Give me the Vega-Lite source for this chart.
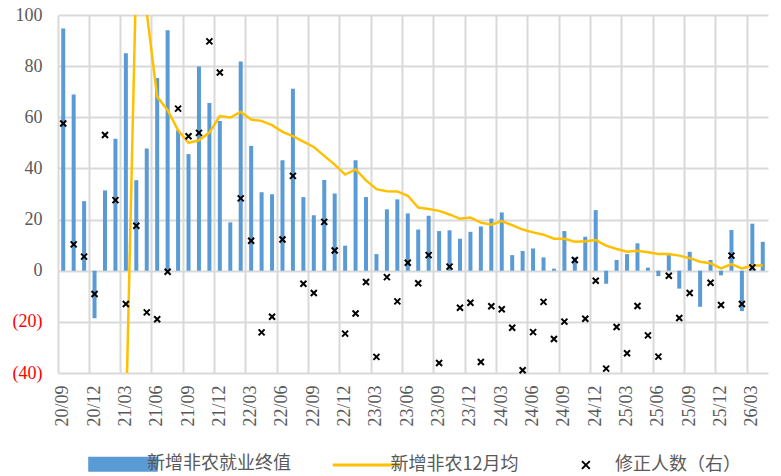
{
  "$schema": "https://vega.github.io/schema/vega-lite/v6.json",
  "width": 710,
  "height": 358,
  "autosize": "none",
  "padding": {"left": 58, "top": 15, "right": 13, "bottom": 103},
  "background": "white",
  "config": {
    "view": {"stroke": null},
    "axis": {"domain": false, "ticks": false, "gridColor": "#d9d9d9", "gridWidth": 2, "labelFont": "Liberation Serif", "labelFontSize": 18, "labelColor": "#595959", "title": null}
  },
  "data": {"values": [
    {"m": "20/09", "bar": 94.7, "avg": -88, "rev": 57.6},
    {"m": "20/10", "bar": 68.9, "avg": -84, "rev": 10.3},
    {"m": "20/11", "bar": 27.2, "avg": -82, "rev": 5.5},
    {"m": "20/12", "bar": -18.6, "avg": -81, "rev": -9.1},
    {"m": "21/01", "bar": 31.4, "avg": -79, "rev": 53.1},
    {"m": "21/02", "bar": 51.6, "avg": -77, "rev": 27.6},
    {"m": "21/03", "bar": 85.0, "avg": -60, "rev": -13.0},
    {"m": "21/04", "bar": 35.4, "avg": 118, "rev": 17.6},
    {"m": "21/05", "bar": 47.8, "avg": 101, "rev": -16.3},
    {"m": "21/06", "bar": 75.4, "avg": 68.0, "rev": -19.0},
    {"m": "21/07", "bar": 94.0, "avg": 62.8, "rev": -0.4},
    {"m": "21/08", "bar": 54.9, "avg": 54.9, "rev": 63.4},
    {"m": "21/09", "bar": 45.6, "avg": 50.0, "rev": 52.6},
    {"m": "21/10", "bar": 79.9, "avg": 51.0, "rev": 53.9},
    {"m": "21/11", "bar": 65.6, "avg": 54.0, "rev": 89.7},
    {"m": "21/12", "bar": 58.5, "avg": 60.5, "rev": 77.5},
    {"m": "22/01", "bar": 18.9, "avg": 59.9, "rev": null},
    {"m": "22/02", "bar": 81.8, "avg": 62.1, "rev": 28.3},
    {"m": "22/03", "bar": 48.8, "avg": 59.1, "rev": 11.7},
    {"m": "22/04", "bar": 30.7, "avg": 58.6, "rev": -24.1},
    {"m": "22/05", "bar": 29.9, "avg": 56.9, "rev": -18.0},
    {"m": "22/06", "bar": 43.2, "avg": 54.3, "rev": 12.2},
    {"m": "22/07", "bar": 71.2, "avg": 52.6, "rev": 37.1},
    {"m": "22/08", "bar": 28.8, "avg": 50.5, "rev": -5.1},
    {"m": "22/09", "bar": 21.7, "avg": 48.4, "rev": -8.7},
    {"m": "22/10", "bar": 35.5, "avg": 44.9, "rev": 19.1},
    {"m": "22/11", "bar": 30.2, "avg": 41.5, "rev": 7.9},
    {"m": "22/12", "bar": 9.8, "avg": 37.6, "rev": -24.6},
    {"m": "23/01", "bar": 43.2, "avg": 39.6, "rev": -16.7},
    {"m": "23/02", "bar": 28.8, "avg": 35.3, "rev": -4.4},
    {"m": "23/03", "bar": 6.5, "avg": 31.9, "rev": -33.7},
    {"m": "23/04", "bar": 24.0, "avg": 31.1, "rev": -2.5},
    {"m": "23/05", "bar": 27.9, "avg": 31.0, "rev": -12.0},
    {"m": "23/06", "bar": 22.4, "avg": 29.3, "rev": 3.1},
    {"m": "23/07", "bar": 16.1, "avg": 24.7, "rev": -4.9},
    {"m": "23/08", "bar": 21.5, "avg": 24.1, "rev": 6.1},
    {"m": "23/09", "bar": 15.5, "avg": 23.4, "rev": -36.1},
    {"m": "23/10", "bar": 15.8, "avg": 22.0, "rev": 1.6},
    {"m": "23/11", "bar": 12.5, "avg": 20.3, "rev": -14.5},
    {"m": "23/12", "bar": 15.2, "avg": 20.8, "rev": -12.5},
    {"m": "24/01", "bar": 17.3, "avg": 18.8, "rev": -35.7},
    {"m": "24/02", "bar": 20.4, "avg": 18.0, "rev": -13.9},
    {"m": "24/03", "bar": 22.8, "avg": 19.4, "rev": -15.1},
    {"m": "24/04", "bar": 6.1, "avg": 17.8, "rev": -22.3},
    {"m": "24/05", "bar": 7.7, "avg": 16.1, "rev": -38.9},
    {"m": "24/06", "bar": 8.7, "avg": 15.0, "rev": -24.0},
    {"m": "24/07", "bar": 5.2, "avg": 14.1, "rev": -12.2},
    {"m": "24/08", "bar": 0.8, "avg": 12.5, "rev": -26.7},
    {"m": "24/09", "bar": 15.5, "avg": 12.5, "rev": -19.9},
    {"m": "24/10", "bar": 5.2, "avg": 11.3, "rev": 4.2},
    {"m": "24/11", "bar": 13.3, "avg": 11.5, "rev": -18.8},
    {"m": "24/12", "bar": 23.7, "avg": 12.0, "rev": -3.9},
    {"m": "25/01", "bar": -5.1, "avg": 9.8, "rev": -38.3},
    {"m": "25/02", "bar": 4.2, "avg": 8.5, "rev": -22.0},
    {"m": "25/03", "bar": 6.5, "avg": 7.4, "rev": -32.3},
    {"m": "25/04", "bar": 10.7, "avg": 7.8, "rev": -13.8},
    {"m": "25/05", "bar": 1.2, "avg": 7.2, "rev": -25.3},
    {"m": "25/06", "bar": -2.1, "avg": 6.5, "rev": -33.6},
    {"m": "25/07", "bar": 6.1, "avg": 6.5, "rev": -2.0},
    {"m": "25/08", "bar": -7.0, "avg": 5.9, "rev": -18.5},
    {"m": "25/09", "bar": 7.4, "avg": 4.9, "rev": -8.7},
    {"m": "25/10", "bar": -14.1, "avg": 3.5, "rev": null},
    {"m": "25/11", "bar": 4.2, "avg": 2.9, "rev": -4.7},
    {"m": "25/12", "bar": -1.8, "avg": 0.9, "rev": -13.4},
    {"m": "26/01", "bar": 15.9, "avg": 2.6, "rev": 5.9},
    {"m": "26/02", "bar": -15.8, "avg": 0.9, "rev": -13.0},
    {"m": "26/03", "bar": 18.4, "avg": 2.0, "rev": 1.3},
    {"m": "26/04", "bar": 11.3, "avg": 2.0, "rev": null}
  ]},
  "encoding": {
    "x": {
      "field": "m", "type": "ordinal", "sort": null,
      "scale": {"type": "band", "paddingInner": 0, "paddingOuter": 0},
      "axis": {
        "grid": true, "bandPosition": 0, "labelAngle": -90, "labelPadding": 12,
        "labelFont": "Liberation Serif", "labelFontSize": 18,
        "values": ["20/09","20/12","21/03","21/06","21/09","21/12","22/03","22/06","22/09","22/12","23/03","23/06","23/09","23/12","24/03","24/06","24/09","24/12","25/03","25/06","25/09","25/12","26/03"]
      }
    }
  },
  "layer": [
    {
      "mark": {"type": "bar", "size": 4},
      "encoding": {
        "y": {
          "field": "bar", "type": "quantitative",
          "scale": {"domain": [-40, 100], "nice": false, "zero": false},
          "axis": {
            "values": [-40, -20, 0, 20, 40, 60, 80, 100],
            "labelPadding": 16,
            "labelFont": "Liberation Serif", "labelFontSize": 18,
            "labelExpr": "datum.value < 0 ? '(' + abs(datum.value) + ')' : datum.label + '\u00a0'",
            "labelColor": {"condition": {"test": "datum.value < 0", "value": "#FF0000"}, "value": "#595959"}
          }
        },
        "color": {
          "datum": "新增非农就业终值",
          "scale": {"domain": ["新增非农就业终值", "新增非农12月均", "修正人数（右）"], "range": ["#5B9BD5", "#FFC000", "#000000"]},
          "legend": {
            "title": null, "orient": "none", "direction": "horizontal", "legendX": 56, "legendY": 440,
            "symbolSize": 2704, "symbolStrokeWidth": 2, "labelOffset": 15, "columnPadding": 35.5,
            "labelFont": "Noto Sans CJK SC", "labelFontSize": 18, "labelColor": "#595959", "labelLimit": 400,
            "encode": {
              "symbols": {
                "update": {
                  "shape": {"signal": "datum.value == '新增非农就业终值' ? 'M-1.3,-0.25H1.3V0.25H-1.3Z' : datum.value == '新增非农12月均' ? 'M-1.3,0H1.3' : 'M0.73,-0.15L1.03,0.15M0.73,0.15L1.03,-0.15'"},
                  "fill": {"signal": "datum.value == '新增非农就业终值' ? '#5B9BD5' : 'transparent'"},
                  "stroke": {"signal": "datum.value == '新增非农就业终值' ? 'transparent' : datum.value == '新增非农12月均' ? '#FFC000' : '#000000'"},
                  "strokeWidth": {"signal": "datum.value == '新增非农12月均' ? 3 : 2"},
                  "size": {"value": 2704},
                  "opacity": {"value": 1}
                }
              },
              "labels": {
                "update": {
                  "dx": {"signal": "datum.value == '修正人数（右）' ? 28 : 0"}
                }
              }
            }
          }
        }
      }
    },
    {
      "mark": {"type": "line", "clip": true, "strokeWidth": 2.5},
      "encoding": {
        "y": {"field": "avg", "type": "quantitative"},
        "color": {"datum": "新增非农12月均"}
      }
    },
    {
      "mark": {"type": "point", "shape": "M-1,-1L1,1M-1,1L1,-1", "size": 36, "filled": false, "strokeWidth": 2, "opacity": 1},
      "encoding": {
        "y": {"field": "rev", "type": "quantitative"},
        "color": {"datum": "修正人数（右）"}
      }
    }
  ]
}
